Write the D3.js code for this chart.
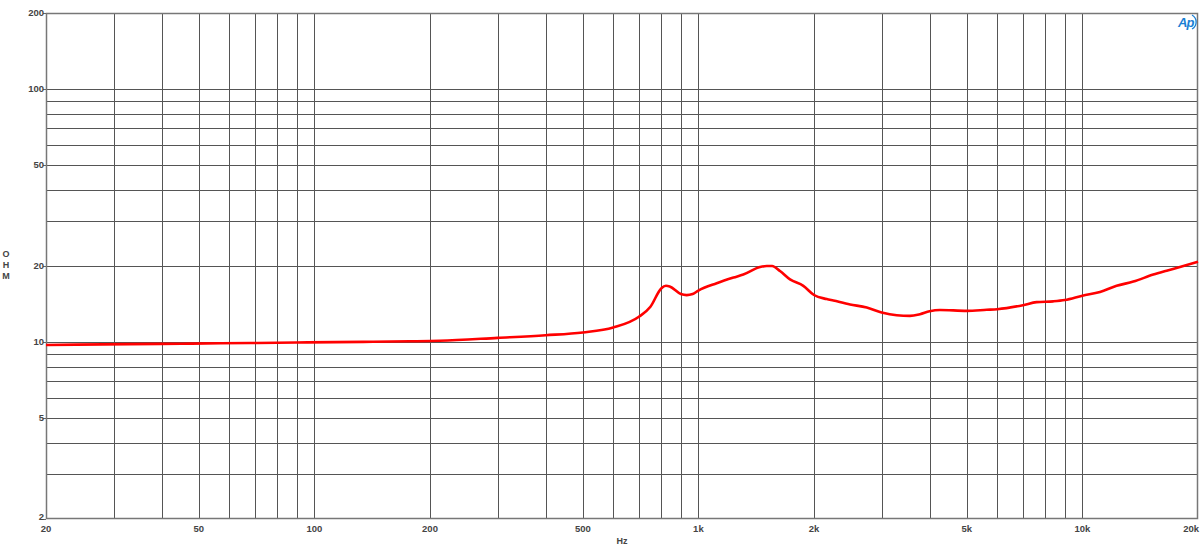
<!DOCTYPE html>
<html><head><meta charset="utf-8">
<script src="https://cdn.jsdelivr.net/npm/d3@7"></script>
<style>body{margin:0;background:#fff}svg{display:block}text{font-family:Arial,"Liberation Sans",sans-serif}</style>
</head><body><svg id="c" width="1200" height="560"></svg>
<script>
const freqs = [20, 24, 33, 45, 57, 71, 96, 134, 177, 212, 300, 400, 500, 600, 700, 750, 800, 823, 842, 900, 932, 966, 1000, 1116, 1234, 1309, 1447, 1506, 1556, 1631, 1732, 1876, 2000, 2158, 2246, 2483, 2744, 3000, 3284, 3556, 3776, 4000, 4256, 5000, 5634, 6000, 7000, 7600, 8400, 9000, 10000, 11112, 12276, 13572, 15298, 16574, 18320, 20000];
const ohms = [9.75, 9.78, 9.82, 9.86, 9.9, 9.93, 9.98, 10.03, 10.08, 10.13, 10.4, 10.65, 10.92, 11.42, 12.6, 13.8, 16.3, 16.7, 16.6, 15.5, 15.35, 15.5, 16.0, 17.1, 18.0, 18.5, 19.8, 20.0, 20.0, 19.1, 17.7, 16.7, 15.36, 14.8, 14.6, 14.1, 13.7, 13.1, 12.77, 12.7, 12.9, 13.25, 13.4, 13.3, 13.43, 13.5, 14.0, 14.4, 14.5, 14.67, 15.27, 15.8, 16.7, 17.35, 18.5, 19.17, 20.0, 20.8];
const xGrid = [30,40,50,60,70,80,90,100,200,300,400,500,600,700,800,900,1000,2000,3000,4000,5000,6000,7000,8000,9000,10000];
const yGrid = [3,4,5,6,7,8,9,10,20,30,40,50,60,70,80,90,100];
const xTicks = [20,50,100,200,500,1000,2000,5000,10000,20000];
const xTickLabels = ["20","50","100","200","500","1k","2k","5k","10k","20k"];
const yTicks = [2,5,10,20,50,100,200];

const L=46, R=1198, T=13, B=519;
const svg = d3.select("#c");
const x = d3.scaleLog().domain([20,20000]).range([L,R]);
const y = d3.scaleLog().domain([2,200]).range([B,T]);

svg.append("g").selectAll("line").data(xGrid).join("line")
  .attr("x1",d=>Math.round(x(d))+0.5).attr("x2",d=>Math.round(x(d))+0.5)
  .attr("y1",T).attr("y2",B).attr("stroke","#555").attr("stroke-width",1);
svg.append("g").selectAll("line").data(yGrid).join("line")
  .attr("y1",d=>Math.round(y(d))+0.5).attr("y2",d=>Math.round(y(d))+0.5)
  .attr("x1",L).attr("x2",R).attr("stroke","#555").attr("stroke-width",1);
svg.append("rect").attr("x",L+0.5).attr("y",T+0.5).attr("width",R-L-1).attr("height",B-T-1)
  .attr("fill","none").attr("stroke","#777").attr("stroke-width",1.5);

// y ticks & labels
svg.append("g").selectAll("line").data(yTicks).join("line")
  .attr("x1",L-3).attr("x2",L).attr("y1",d=>Math.round(y(d))+0.5).attr("y2",d=>Math.round(y(d))+0.5).attr("stroke","#666");
svg.append("g").selectAll("text").data(yTicks).join("text")
  .attr("x",L-2).attr("y",d=>y(d)+(d===2?1:3)).attr("text-anchor","end")
  .attr("font-size",9.5).attr("fill","#444").attr("font-weight","bold").text(d=>d);
svg.append("g").selectAll("text").data(xTicks).join("text")
  .attr("x",(d,i)=>i===xTicks.length-1?R+1:x(d)).attr("y",532)
  .attr("text-anchor",(d,i)=>i===xTicks.length-1?"end":"middle")
  .attr("font-size",9.5).attr("fill","#444").attr("font-weight","bold").text((d,i)=>xTickLabels[i]);

svg.append("text").attr("x",622).attr("y",544).attr("text-anchor","middle")
  .attr("font-size",9).attr("fill","#444").attr("font-weight","bold").text("Hz");
["O","H","M"].forEach((c,i)=>svg.append("text").attr("x",6).attr("y",257+i*11).attr("text-anchor","middle")
  .attr("font-size",9).attr("fill","#444").attr("font-weight","bold").text(c));

// Ap logo
svg.append("text").attr("x",1178).attr("y",27).attr("font-size",13).attr("font-style","italic")
  .attr("font-weight","bold").attr("fill","#1a7fd4").attr("letter-spacing","-1").text("Ap");
svg.append("path").attr("d","M1192,15 A8,8 0 0 1 1192,29").attr("fill","none").attr("stroke","#1a7fd4").attr("stroke-width",1.3);

const data = freqs.map((f,i)=>[f,ohms[i]]);
const line = d3.line().x(d=>x(d[0])).y(d=>y(d[1])).curve(d3.curveMonotoneX);
svg.append("path").datum(data).attr("d",line).attr("fill","none")
  .attr("stroke","#ff0000").attr("stroke-width",2.6).attr("stroke-linejoin","round");
</script></body></html>
